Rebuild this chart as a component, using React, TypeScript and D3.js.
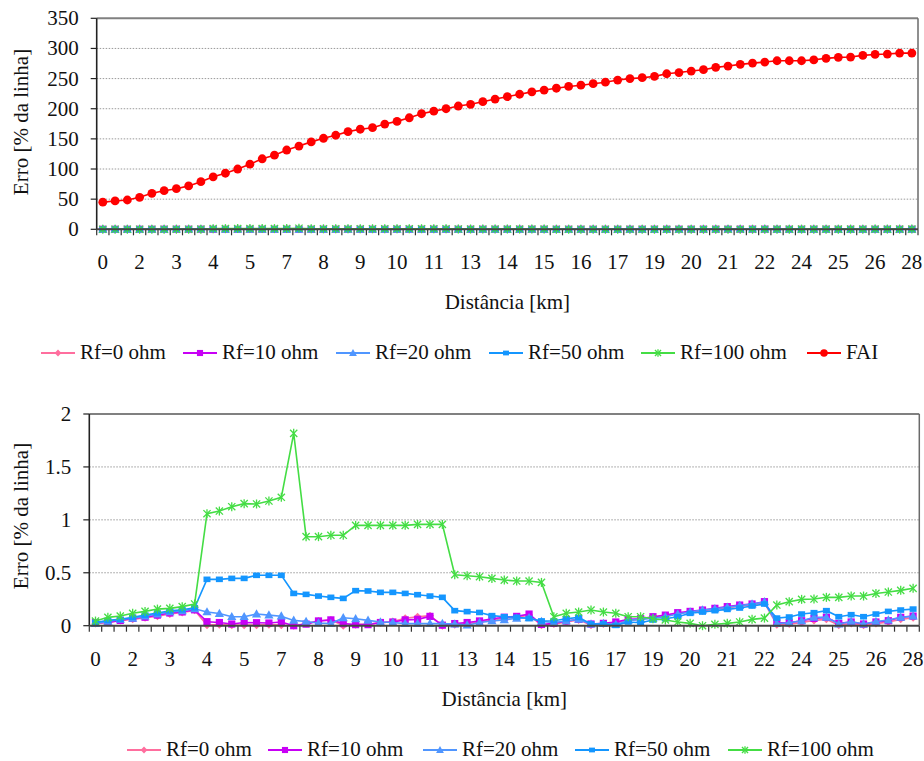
import React from 'react';
import * as d3 from 'd3';

// ---------- data ----------
const tickLabels = ["0","2","3","4","5","7","8","9","10","11","13","14","15","16","17","19","20","21","22","24","25","26","28"];
const tickEvery = 3;

const rf0 = [0.02,0.03,0.05,0.06,0.075,0.09,0.11,0.125,0.145,
  0.005,0.01,0.005,0.005,0.005,0.01,0.005,0.0,0.02,0.045,0.055,0.0,0.01,0.015,0.025,0.04,0.07,0.085,0.095,0.0,0.01,
  0.02,0.035,0.055,0.07,0.08,0.1,0.005,0.015,0.035,0.055,0.005,0.015,0.03,0.05,0.06,0.08,0.095,0.115,0.13,0.14,
  0.155,0.17,0.185,0.195,0.215,0.01,0.015,0.03,0.05,0.06,0.005,0.02,0.005,0.02,0.035,0.06,0.075];
const rf10 = [0.03,0.03,0.05,0.07,0.08,0.1,0.12,0.13,0.15,
  0.038,0.03,0.016,0.03,0.028,0.025,0.035,0.0,0.015,0.045,0.055,0.02,0.01,0.01,0.03,0.035,0.055,0.06,0.088,0.005,0.02,
  0.03,0.045,0.065,0.08,0.088,0.11,0.012,0.022,0.044,0.06,0.016,0.022,0.035,0.06,0.066,0.085,0.1,0.123,0.135,0.148,
  0.164,0.18,0.195,0.205,0.227,0.028,0.028,0.047,0.069,0.079,0.022,0.035,0.016,0.035,0.047,0.079,0.091];
const rf20 = [0.02,0.04,0.06,0.07,0.09,0.11,0.13,0.14,0.16,
  0.13,0.115,0.085,0.085,0.11,0.1,0.09,0.05,0.04,0.025,0.02,0.075,0.065,0.05,0.035,0.03,0.02,0.02,0.02,0.02,0.015,
  0.005,0.03,0.045,0.055,0.07,0.075,0.04,0.03,0.045,0.06,0.015,0.02,0.01,0.05,0.06,0.07,0.085,0.11,0.13,0.148,
  0.16,0.175,0.19,0.205,0.225,0.02,0.028,0.047,0.079,0.079,0.016,0.04,0.016,0.04,0.054,0.079,0.09];
const rf50 = [0.03,0.05,0.06,0.08,0.1,0.12,0.14,0.15,0.17,
  0.438,0.438,0.447,0.447,0.476,0.476,0.476,0.305,0.296,0.28,0.268,0.258,0.331,0.328,0.315,0.315,0.305,0.293,0.28,0.268,0.142,
  0.133,0.125,0.095,0.085,0.08,0.068,0.045,0.047,0.066,0.079,0.016,0.016,0.003,0.035,0.028,0.054,0.066,0.085,0.117,0.129,
  0.142,0.154,0.167,0.186,0.205,0.072,0.082,0.11,0.123,0.142,0.085,0.104,0.085,0.11,0.135,0.148,0.157];
const rf100 = [0.044,0.079,0.091,0.117,0.135,0.157,0.164,0.18,0.205,
  1.058,1.083,1.124,1.153,1.15,1.178,1.213,1.817,0.841,0.841,0.854,0.854,0.948,0.948,0.948,0.948,0.948,0.957,0.957,0.957,0.482,
  0.472,0.463,0.447,0.431,0.422,0.422,0.409,0.085,0.117,0.129,0.148,0.129,0.117,0.085,0.085,0.066,0.054,0.035,0.022,0.0,
  0.013,0.022,0.035,0.06,0.072,0.195,0.227,0.249,0.252,0.268,0.268,0.28,0.28,0.305,0.318,0.334,0.353];
const fai = [45,47,48.6,53,59.7,64,67.4,72,79,87,93,100,108,117,123,131.5,138,145,151,156,162,166,168.5,174.6,179,185,191.7,196,200,204.5,
  207.3,211.7,216,220,224,228,231,234,237,239,241.5,244,247.6,250,251.5,253.7,258,260,262.5,264.7,268.6,270.8,273.6,275.7,277.4,
  279.6,279.6,279.6,281,283.6,285.2,285.7,288.5,290,290.7,292.3,292.3];

const topTicks = [0,50,100,150,200,250,300,350];
const bottomTicks = [0,0.5,1,1.5,2];
const bottomTickLabels = ["0","0.5","1","1.5","2"];

type Series = { name: string; data: number[]; color: string; marker: string };
const rfSeries: Series[] = [
  { name: "Rf=0 ohm", data: rf0, color: "#FF6E9E", marker: "diamond" },
  { name: "Rf=10 ohm", data: rf10, color: "#C800F5", marker: "square" },
  { name: "Rf=20 ohm", data: rf20, color: "#5096FF", marker: "triangle" },
  { name: "Rf=50 ohm", data: rf50, color: "#1496FF", marker: "rect" },
  { name: "Rf=100 ohm", data: rf100, color: "#44DD44", marker: "star" },
];
const faiSeries: Series = { name: "FAI", data: fai, color: "#FF0000", marker: "circle" };

const FONT = 'Liberation Serif, Times New Roman, DejaVu Serif, serif';
const FS = 21;
const textStyle: React.CSSProperties = { fontFamily: FONT, fontSize: FS };

function Marker({ type, x, y, color, s = 1 }: { type: string; x: number; y: number; color: string; s?: number }) {
  switch (type) {
    case "diamond":
      return <path d={`M${x},${y - 4 * s}L${x + 4 * s},${y}L${x},${y + 4 * s}L${x - 4 * s},${y}Z`} fill={color} />;
    case "square":
      return <rect x={x - 3.6 * s} y={y - 3.6 * s} width={7.2 * s} height={7.2 * s} fill={color} />;
    case "triangle":
      return <path d={`M${x},${y - 4.8 * s}L${x + 4.6 * s},${y + 3.4 * s}L${x - 4.6 * s},${y + 3.4 * s}Z`} fill={color} />;
    case "rect":
      return <rect x={x - 3.5 * s} y={y - 2.8 * s} width={7 * s} height={5.6 * s} fill={color} />;
    case "star": {
      const r = 4.5 * s;
      const d = 3.6 * s;
      return (
        <g stroke={color} strokeWidth={1.3}>
          <line x1={x} y1={y - r} x2={x} y2={y + r} />
          <line x1={x - d} y1={y - d} x2={x + d} y2={y + d} />
          <line x1={x - d} y1={y + d} x2={x + d} y2={y - d} />
        </g>
      );
    }
    case "circle":
      return <circle cx={x} cy={y} r={4.4 * s} fill={color} />;
    default:
      return null;
  }
}

type PanelProps = {
  left: number; right: number; top: number; bottom: number;
  yMax: number; yTicks: number[]; yTickLabels: string[];
  series: Series[];
};

function Panel({ left, right, top, bottom, yMax, yTicks, yTickLabels, series }: PanelProps) {
  const n = fai.length;
  const idx = d3.range(n);
  const x = d3.scaleBand<number>().domain(idx).range([left, right]).padding(0);
  const cx = (i: number) => (x(i) as number) + x.bandwidth() / 2;
  const y = d3.scaleLinear().domain([0, yMax]).range([bottom, top]);
  const line = d3.line<number>().x((_, i) => cx(i)).y((d) => y(d));
  const boundaries = d3.range(n + 1).map((i) => left + i * x.bandwidth());

  return (
    <g>
      {yTicks.filter((t) => t !== 0 && t !== yMax).map((t) => (
        <line key={t} x1={left} x2={right} y1={y(t)} y2={y(t)} stroke="#9a9a9a" strokeWidth={1} strokeDasharray="1.5,1.5" />
      ))}
      <line x1={left} x2={right} y1={top} y2={top} stroke="#808080" strokeWidth={2} />
      <line x1={right} x2={right} y1={top} y2={bottom} stroke="#6a6a6a" strokeWidth={1.5} />
      {yTicks.map((t, k) => (
        <g key={t}>
          <line x1={left - 6} x2={left} y1={y(t)} y2={y(t)} stroke="#222" strokeWidth={1.2} />
          <text x={left - 18} y={y(t) + 7} textAnchor="end" style={textStyle} fill="#111">{yTickLabels[k]}</text>
        </g>
      ))}
      {boundaries.map((b, i) => (
        <line key={i} x1={b} x2={b} y1={bottom} y2={bottom + 6} stroke="#333" strokeWidth={1.2} />
      ))}
      {tickLabels.map((lab, k) => (
        <text key={k} x={cx(k * tickEvery)} y={bottom + 40} textAnchor="middle" style={textStyle} fill="#111">{lab}</text>
      ))}
      {series.map((s) => (
        <g key={s.name}>
          <path d={line(s.data) || ""} fill="none" stroke={s.color} strokeWidth={1.6} />
          {s.data.map((v, i) => (
            <Marker key={i} type={s.marker} x={cx(i)} y={y(v)} color={s.color} />
          ))}
        </g>
      ))}
      <line x1={left} x2={left} y1={top} y2={bottom} stroke="#222" strokeWidth={1.6} />
      <line x1={left} x2={right} y1={bottom} y2={bottom} stroke="#444" strokeWidth={2} />
      <text x={(left + right) / 2} y={bottom + 80} textAnchor="middle" style={textStyle} fill="#111">Distância [km]</text>
    </g>
  );
}

function Legend({ items, positions, y }: { items: Series[]; positions: number[]; y: number }) {
  return (
    <g>
      {items.map((s, k) => {
        const x0 = positions[k];
        return (
          <g key={s.name}>
            <line x1={x0} x2={x0 + 34} y1={y} y2={y} stroke={s.color} strokeWidth={1.8} />
            <Marker type={s.marker} x={x0 + 17} y={y} color={s.color} s={0.85} />
            <text x={x0 + 39} y={y + 6} style={textStyle} fill="#111">{s.name}</text>
          </g>
        );
      })}
    </g>
  );
}

export default function App() {
  const topLabels = topTicks.map(String);
  return (
    <svg width={924} height={761} style={{ position: 'absolute', left: 0, top: 0, background: '#fff' }}>
      <rect width={924} height={761} fill="#fff" />
      <Panel left={96.7} right={918} top={18.3} bottom={229.3} yMax={350} yTicks={topTicks} yTickLabels={topLabels}
        series={[...rfSeries, faiSeries]} />
      <text transform="translate(28,122) rotate(-90)" textAnchor="middle" style={textStyle} fill="#111">Erro [% da linha]</text>
      <Legend items={[...rfSeries, faiSeries]} positions={[41, 183, 336, 489, 641, 807]} y={353} />

      <Panel left={89.3} right={919.3} top={414} bottom={625.7} yMax={2} yTicks={bottomTicks} yTickLabels={bottomTickLabels}
        series={rfSeries} />
      <text transform="translate(28,516) rotate(-90)" textAnchor="middle" style={textStyle} fill="#111">Erro [% da linha]</text>
      <Legend items={rfSeries} positions={[127, 268, 423, 575, 728]} y={750} />
    </svg>
  );
}
